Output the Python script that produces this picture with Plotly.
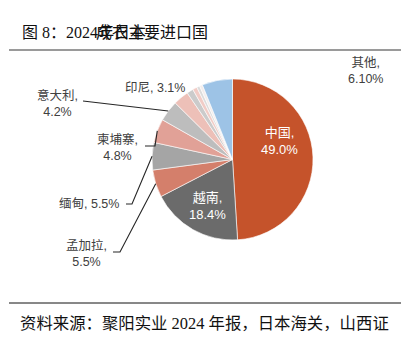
import math
import plotly.graph_objects as go

labels = ["中国", "越南", "孟加拉", "缅甸", "柬埔寨", "意大利", "印尼", "s1", "s2", "s3", "s4", "其他"]
values = [49.0, 18.4, 5.5, 5.5, 4.8, 4.2, 3.1, 1.3, 0.9, 0.6, 0.6, 6.1]
colors = ["#C5532B", "#6B6B6B", "#D47F6B", "#A5A5A5", "#E1A197", "#BDBDBD",
          "#EDC0B8", "#CBCBCB", "#F1CCC6", "#DCDCDC", "#F3EDEC", "#9DC3E6"]
label_text = {"中国": "中国,<br>49.0%", "越南": "越南,<br>18.4%", "孟加拉": "孟加拉,<br>5.5%",
              "缅甸": "缅甸, 5.5%", "柬埔寨": "柬埔寨,<br>4.8%", "意大利": "意大利,<br>4.2%",
              "印尼": "印尼, 3.1%", "其他": "其他,<br>6.10%"}

W, H = 410, 342
cx, cy, R = 232.5, 159.5, 80.5

fig = go.Figure(go.Pie(
    labels=labels, values=values, sort=False, direction="clockwise", rotation=0,
    marker=dict(colors=colors, line=dict(color="white", width=0.6)),
    textinfo="none", hoverinfo="none", showlegend=False,
    domain=dict(x=[(cx - R) / W, (cx + R) / W], y=[1 - (cy + R) / H, 1 - (cy - R) / H]),
))

tot = sum(values)
cum = 0
edge = {}
for l, v in zip(labels, values):
    a = (cum + v / 2) / tot * 2 * math.pi
    edge[l] = (cx + R * math.sin(a), cy - R * math.cos(a))
    cum += v

def px(x):
    return x / W

def py(y):
    return 1 - y / H

fnt = "Arial, Liberation Sans, Noto Sans CJK SC"
ann = []
inside = {"中国": (279, 141), "越南": (207, 206)}
for l, (x, y) in inside.items():
    ann.append(dict(x=px(x), y=py(y), xanchor="center", yanchor="middle", text=label_text[l],
                    showarrow=False, font=dict(color="white", size=13, family=fnt), align="center"))

outside = {"其他": (365, 71), "印尼": (155, 88), "意大利": (57, 103), "柬埔寨": (118, 147),
           "缅甸": (89, 204), "孟加拉": (86, 253)}
for l, (x, y) in outside.items():
    ann.append(dict(x=px(x), y=py(y), xanchor="center", yanchor="middle", text=label_text[l],
                    showarrow=False, font=dict(color="#404040", size=12.5, family=fnt), align="center"))

shapes = []
def line(pts):
    path = "M " + " L ".join(f"{px(x)},{py(y)}" for x, y in pts)
    shapes.append(dict(type="path", path=path, xref="paper", yref="paper",
                       line=dict(color="#262626", width=1.1)))

line([(83, 101), edge["意大利"]])
line([(145, 146), (155, 146), edge["柬埔寨"]])
line([(126, 204), (132, 204), edge["缅甸"]])
line([(113, 252), (120, 252), edge["孟加拉"]])

# title rules
shapes.append(dict(type="line", xref="paper", yref="paper", x0=px(9), x1=px(401), y0=py(50), y1=py(50),
                   line=dict(color="#9A9A9A", width=2)))
shapes.append(dict(type="line", xref="paper", yref="paper", x0=px(9), x1=px(401), y0=py(303), y1=py(303),
                   line=dict(color="#111111", width=1)))

sfnt = "Liberation Serif, Noto Sans CJK SC"
ann.append(dict(x=px(20), y=py(32), xanchor="left", yanchor="middle", text="图 8：2024年日本",
                showarrow=False, font=dict(color="#111111", size=16, family=sfnt)))
ann.append(dict(x=px(94), y=py(32), xanchor="left", yanchor="middle", text="成衣主要进口国",
                showarrow=False, font=dict(color="#111111", size=16, family=sfnt)))
ann.append(dict(x=px(18), y=py(323), xanchor="left", yanchor="middle",
                text="资料来源：聚阳实业 2024 年报，日本海关，山西证", showarrow=False,
                font=dict(color="#111111", size=16.4, family=sfnt)))

fig.update_layout(width=W, height=H, margin=dict(l=0, r=0, t=0, b=0),
                  paper_bgcolor="white", plot_bgcolor="white",
                  annotations=ann, shapes=shapes)
fig.write_html("out.html")
